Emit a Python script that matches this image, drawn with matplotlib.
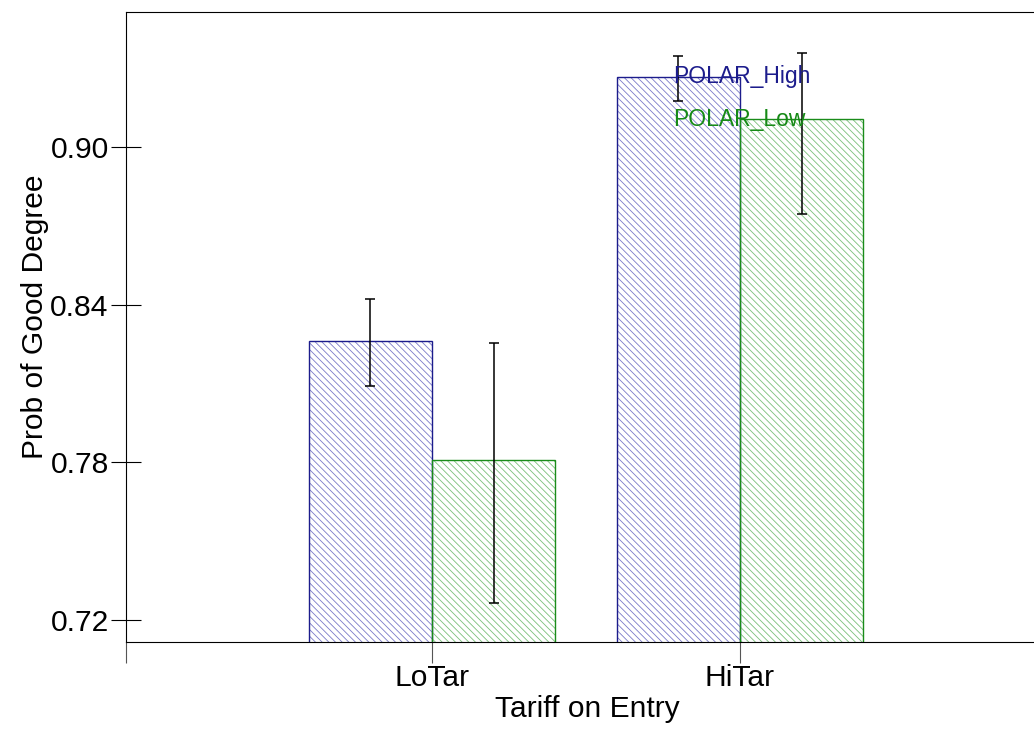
import matplotlib.pyplot as plt
import numpy as np

plt.rcParams['font.family'] = ['Liberation Sans', 'DejaVu Sans']
plt.rcParams['hatch.linewidth'] = 0.6

# datos
categories = ["LoTar", "HiTar"]
high_vals = [0.8262, 0.9270]
high_lo = [0.8090, 0.9178]
high_hi = [0.8422, 0.9350]
low_vals = [0.7808, 0.9107]
low_lo = [0.7264, 0.8745]
low_hi = [0.8255, 0.9359]
yticks = [0.72, 0.78, 0.84, 0.90]

W, H = 1034, 731
fig = plt.figure(figsize=(W / 100, H / 100), dpi=100)
ax = fig.add_axes([126 / W, (H - 642) / H, (1048 - 126) / W, 630 / H])

x = np.arange(1, len(categories) + 1)
w = 0.4
hatch = chr(92) * 5  # rayado diagonal fino
series = [
    (x - w / 2, high_vals, high_lo, high_hi, '#7a7ac8', '#1c1c8c'),
    (x + w / 2, low_vals, low_lo, low_hi, '#7ac07a', '#1a8c1a'),
]
for xs, vals, lo, hi, hcol, ecol in series:
    # relleno rayado y borde por separado
    ax.bar(xs, vals, w, color='none', edgecolor=hcol, hatch=hatch, linewidth=0)
    ax.bar(xs, vals, w, color='none', edgecolor=ecol, linewidth=1.0)
    v = np.array(vals)
    err = [v - np.array(lo), np.array(hi) - v]
    ax.errorbar(xs, vals, yerr=err, fmt='none', ecolor='black',
                elinewidth=1.1, capsize=3.5, capthick=1.1)

# etiquetas de series dentro del gráfico
ax.text(1.782, high_vals[1], "POLAR_High", color='#1c1c8c', fontsize=16.5, va='center')
ax.text(1.782, low_vals[1], "POLAR_Low", color='#168a16', fontsize=16.5, va='center')

ax.set_xlim(0.0065, 3.0)
ax.set_ylim(0.7116, 0.9516)
ax.set_xticks(x)
ax.set_xticklabels(categories)
ax.set_xticks([0.0065], minor=True)
ax.set_yticks(yticks)
ax.set_yticklabels([f"{t:.2f}" for t in yticks])

for s in ['top', 'bottom', 'left']:
    ax.spines[s].set_linewidth(0.8)
ax.spines['right'].set_visible(False)

ax.tick_params(axis='y', direction='inout', length=21, width=0.8, labelsize=21.6, pad=2)
ax.tick_params(axis='x', which='both', direction='out', length=15, width=0.8,
               labelsize=21.6, pad=1, color='#555555')

ax.set_xlabel("Tariff on Entry", fontsize=21.6, labelpad=2)
ax.set_ylabel("Prob of Good Degree", fontsize=21.6, labelpad=3)
ax.yaxis.set_label_coords(-0.083, 0.517)

plt.savefig("out.png", dpi=100)
